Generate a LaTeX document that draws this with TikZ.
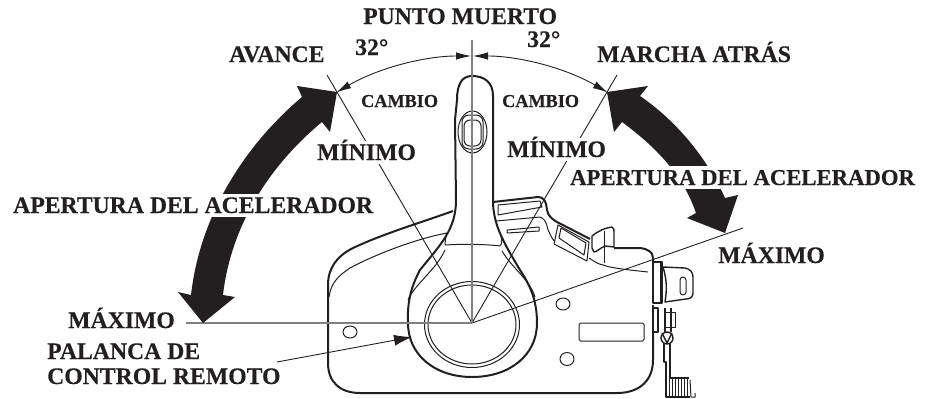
\documentclass[tikz,border=0pt]{standalone}
\usepackage{fontspec}
\setmainfont[BoldFeatures={FakeBold=0.35}]{Liberation Serif}
\usetikzlibrary{arrows.meta}
\definecolor{ink}{HTML}{231F20}
\definecolor{guide}{HTML}{808080}
\tikzset{
  lab/.style={font=\fontsize{23.7}{24}\selectfont\bfseries,anchor=base west,inner sep=0pt,text=ink},
  labw/.style={lab,fill=white,text height=19pt,text depth=4pt},
  small/.style={font=\fontsize{18.2}{19}\selectfont\bfseries,anchor=base west,inner sep=0pt,text=ink},
  thick line/.style={draw=ink,line width=2pt,line join=round},
  thin line/.style={draw=ink,line width=1pt,line join=round},
  med line/.style={draw=ink,line width=1.4pt,line join=round},
  ref line/.style={draw=ink,line width=0.9pt},
  gray line/.style={draw=guide,line width=1.5pt},
  bigarrow/.style={fill=ink,draw=none},
}
\begin{document}
\begin{tikzpicture}[x=1pt,y=-1pt]
\useasboundingbox (0,0) rectangle (927,399);
\coordinate (c) at (472,323);
\coordinate (minL) at (327,75);
\coordinate (minR) at (617,75);
\coordinate (top) at (472,40);
\coordinate (maxL) at (186,323);
\coordinate (maxR) at (743,228);
\coordinate (arcT) at (472,56);
\coordinate (arcL) at (337,92);
\coordinate (arcR) at (607,92);
\coordinate (lever) at (412,337);

% body
\draw[thick line] (453,211) .. controls (420,223) and (385,233) .. (353,248) .. controls (337,256) and (328,268) .. (328,285) -- (328,363) .. controls (328,382) and (340,393) .. (360,393) -- (617,393) .. controls (640,393) and (653,380) .. (653,360) -- (653,333);
\draw[thin line] (329,297) .. controls (331,283) and (338,276) .. (350,268) .. controls (380,252) and (420,238) .. (447,233);
% handle
\draw[thick line] (457,100) .. controls (457,84) and (462,76) .. (472,76) .. controls (484,76) and (493,82) .. (493,96) -- (493,203) .. controls (494,225) and (502,240) .. (520,270) .. controls (530,285) and (537,300) .. (537,323) .. controls (537,355) and (510,377) .. (472,377) .. controls (435,377) and (408,355) .. (408,323) .. controls (407,300) and (412,285) .. (420,270) .. controls (440,245) and (456,230) .. (456,200) -- (455,120) -- (457,100);
\draw[thin line] (445,245) .. controls (460,244) and (485,244) .. (500,246) .. controls (502,244) and (502,240) .. (501,236);
\draw[thin line] (445,245) .. controls (445,241) and (446,237) .. (447,233);
\draw[thin line] (445,250) .. controls (436,270) and (414,285) .. (408,300);
\draw[thin line] (502,251) .. controls (512,268) and (530,280) .. (535,297);
\draw[thin line] (472,324.5) ellipse [x radius=47.5,y radius=43];
\draw[thin line] (472,324.5) ellipse [x radius=44,y radius=39.5];
\draw[thin line] (472.5,132) ellipse [x radius=14.5,y radius=21];
\draw[thin line,rounded corners=7pt] (462,115) rectangle (483,149);
\draw[thin line,rounded corners=6pt] (464,120) rectangle (481,146);
% upper right of body
\draw[thick line] (493,202) -- (538,197) .. controls (543,197) and (546,200) .. (547,210) .. controls (548,216) and (552,219) .. (557,222) -- (590,239);
\draw[thin line] (498,205) -- (540,201) -- (542,207) -- (498,215) -- cycle;
\draw[thin line] (496,221) -- (540,217) .. controls (548,220) and (546,228) .. (550,234) .. controls (552,238) and (553,240) .. (555,242);
\draw[thin line] (507,230) -- (539,227) -- (539,231) -- (507,233) -- cycle;
\draw[thin line] (558,225) -- (589,242) -- (587,261) -- (554,244) -- cycle;
\draw[thin line] (561,228) -- (586,243) -- (584,255) -- (559,238) -- cycle;
\draw[med line] (592,248) -- (592,236) .. controls (597,232) and (604,228) .. (612,227) .. controls (614,228) and (614,230) .. (614,232) -- (614,247) -- (605,246) .. controls (600,248) and (597,252) .. (594,252) -- cycle;
\draw[thin line] (604,231) -- (604,263);
\draw[thin line] (589,258) .. controls (595,262) and (598,264) .. (603,265) .. controls (610,268) and (630,270) .. (648,272);
\draw[thick line] (614,248) -- (640,248) .. controls (648,249) and (653,252) .. (653,258) -- (653,264);
% key
\draw[med line] (653,262) rectangle (662,303);
\draw[thin line] (660,262) -- (660,303);
\draw[med line] (663,267) -- (685,268) .. controls (690,269) and (693,272) .. (693,277) -- (693,293) .. controls (693,297) and (690,299) .. (686,299) -- (665,302) .. controls (667,290) and (667,280) .. (663,267) -- cycle;
\draw[thin line,rounded corners=3pt] (680,277) rectangle (686,295);
% chain and tag
\draw[thick line] (653,305) -- (653,333);
\draw[med line] (653,308) -- (658,308) -- (658,332) -- (653,332);
\draw[thin line] (664,312) rectangle (675,327);
\draw[med line] (665,308) -- (665,332);
\draw[med line] (671,308) -- (671,332);
\draw[med line] (667,338) circle [radius=6];
\draw[med line] (662,333) -- (667,343) -- (672,333);
\draw[med line] (664,343) -- (664,362) -- (666,362) -- (666,397) -- (690,397);
\draw[med line] (670,343) -- (670,378) -- (689,378);
\foreach \xx in {669,672,675,678,681,684,687}{\draw[thin line] (\xx,378) -- (\xx,397);}
\draw[thin line] (690,380) -- (691,397) -- (695,397) -- (695,393);
% holes and plate
\draw[thin line] (563,304) ellipse [x radius=7,y radius=6];
\draw[thin line] (567,359) ellipse [x radius=7,y radius=6.5];
\draw[thin line] (350,332) ellipse [x radius=7,y radius=6];
\draw[thin line,rounded corners=1.5pt] (579,323) rectangle (644,341);
% guides
\draw[ref line] (c) -- (minL);
\draw[ref line] (c) -- (minR);
\draw[ref line] (c) -- (maxR);
\draw[gray line] (c) -- (top);
\draw[gray line] (c) -- (maxL);
% big arrows
\path[bigarrow] (arcL) -- (297,86) -- (302,97) .. controls (245,145) and (200,215) .. (191,295) -- (178,292) -- (203,323) -- (235,297) -- (223,295) .. controls (231,225) and (270,165) .. (322,122) -- (330,132) -- cycle;
\path[bigarrow] (arcR) -- (648,86) -- (640,96) .. controls (678,122) and (708,160) .. (725,198) -- (738,195) -- (725,233) -- (687,218) -- (696,213) .. controls (684,178) and (660,150) .. (622,122) -- (614,132) -- cycle;
% angle arcs
\draw[ink,line width=0.9pt,{Latex[length=15pt,width=7.5pt]}-{Latex[length=15pt,width=7.5pt]}] (471,56) arc[start angle=-90,end angle=-120.3,radius=267];
\draw[ink,line width=0.9pt,{Latex[length=15pt,width=7.5pt]}-{Latex[length=15pt,width=7.5pt]}] (473,56) arc[start angle=-90,end angle=-59.7,radius=267];
% labels
\node[lab] (pm) at (363,24) {PUNTO MUERTO};
\node[lab] (d32l) at (355,55) {32°};
\node[lab] (d32r) at (527,47) {32°};
\node[lab] (avance) at (229,62) {AVANCE};
\node[lab] (marcha) at (597,62) {MARCHA ATRÁS};
\node[small] (cambl) at (361,107) {CAMBIO};
\node[small] (cambr) at (502,107) {CAMBIO};
\node[labw] (minl) at (317,160) {MÍNIMO};
\node[labw] (minr) at (507,157) {MÍNIMO};
\node[labw] (apl) at (13,213) {APERTURA DEL ACELERADOR};
\node[labw,font=\fontsize{22.7}{24}\selectfont\bfseries] (apr) at (570,185) {APERTURA DEL ACELERADOR};
\node[lab] (maxl) at (68,328) {MÁXIMO};
\node[lab] (maxr) at (718,263) {MÁXIMO};
\node[lab] (pal1) at (47,359) {PALANCA DE};
\node[lab] (pal2) at (47,384) {CONTROL REMOTO};
\coordinate (palend) at (277,362);
\draw[ink,line width=0.9pt,-{Latex[length=18pt,width=11pt]}] (palend) -- (lever);
\end{tikzpicture}
\end{document}
